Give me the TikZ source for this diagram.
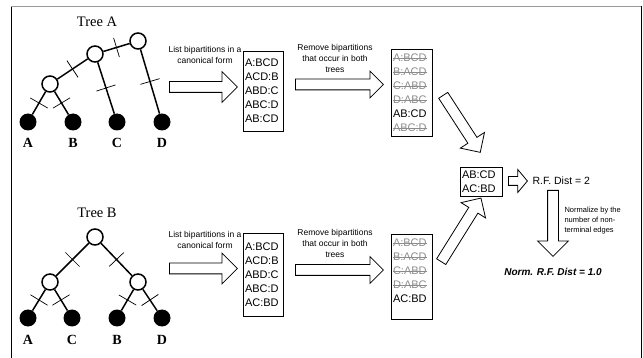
\documentclass[tikz,border=0pt]{standalone}
\usepackage{fontspec}
\setmainfont{Liberation Sans}
\newfontfamily\treefont{Liberation Serif}
\usetikzlibrary{positioning,calc,shapes.arrows}
\newsavebox\gonebox
\newcommand\gone[1]{\leavevmode\sbox\gonebox{\color{black!45}#1}{\color{black!45}\rlap{\rule[0.55ex]{\wd\gonebox}{0.5pt}}}\usebox\gonebox}
\newcommand\cut[2]{\draw[tick] ($(#1)!0.5!(#2)!10pt!90:(#2)$) -- ($(#1)!0.5!(#2)!10pt!-90:(#2)$);}
\newcommand\blist[4]{\parbox[c][#1][#2]{#3}{#4}}

\begin{document}
\begin{tikzpicture}[x=1pt,y=-1pt,
  inode/.style={circle,draw,line width=1.5pt,fill=white,minimum size=16pt,inner sep=0pt},
  leaf/.style={circle,fill=black,minimum size=17pt,inner sep=0pt},
  edge/.style={line width=1.5pt},
  tick/.style={line width=0.7pt},
  leaflab/.style={font=\treefont\bfseries\fontsize{14}{14}\selectfont},
  title/.style={font=\treefont\fontsize{14.5}{15}\selectfont},
  blockarrow/.style={single arrow,draw,fill=white,inner xsep=0pt,inner ysep=5pt,anchor=tail,line width=0.8pt},
  note/.style={font=\fontsize{8.5}{11}\selectfont,align=center},
  listbox/.style={draw,line width=0.8pt,inner sep=2pt,font=\fontsize{11}{14}\selectfont}]
\useasboundingbox (0,0) rectangle (643,358);
\draw[line width=1pt] (11,358) -- (11,6);
\draw[black!40] (11,6) -- (641,6);
\draw[line width=1pt] (641,6) -- (641,358);
% tree A
\node[title] (ta) at (97,22) {Tree A};
\node[inode] (a1) at (138,41) {};
\node[inode] (a2) at (95,54) {};
\node[inode] (a3) at (50,84) {};
\node[leaf] (aA) at (28,122) {};
\node[leaf] (aB) at (73,122) {};
\node[leaf] (aC) at (117,122) {};
\node[leaf] (aD) at (162,122) {};
\draw[edge] (a1) -- (a2); \draw[edge] (a1) -- (aD);
\draw[edge] (a2) -- (a3); \draw[edge] (a2) -- (aC);
\draw[edge] (a3) -- (aA); \draw[edge] (a3) -- (aB);
\cut{a1}{a2} \cut{a1}{aD} \cut{a2}{a3} \cut{a2}{aC} \cut{a3}{aA} \cut{a3}{aB}
\node[leaflab] (laA) at (28,143) {A};
\node[leaflab] (laB) at (73,143) {B};
\node[leaflab] (laC) at (117,143) {C};
\node[leaflab] (laD) at (162,143) {D};
% tree B
\node[title] (tb) at (97,213) {Tree B};
\node[inode] (b1) at (95,237) {};
\node[inode] (b2) at (50,282) {};
\node[inode] (b3) at (138,282) {};
\node[leaf] (bA) at (28,318) {};
\node[leaf] (bC) at (72,318) {};
\node[leaf] (bB) at (117,318) {};
\node[leaf] (bD) at (162,318) {};
\draw[edge] (b1) -- (b2); \draw[edge] (b1) -- (b3);
\draw[edge] (b2) -- (bA); \draw[edge] (b2) -- (bC);
\draw[edge] (b3) -- (bB); \draw[edge] (b3) -- (bD);
\cut{b1}{b2} \cut{b1}{b3} \cut{b2}{bA} \cut{b2}{bC} \cut{b3}{bB} \cut{b3}{bD}
\node[leaflab] (lbA) at (28,340) {A};
\node[leaflab] (lbC) at (72,340) {C};
\node[leaflab] (lbB) at (117,340) {B};
\node[leaflab] (lbD) at (162,340) {D};
% top row
\node[note] (na1) at (205,55) {List bipartitions in a\\canonical form};
\node[blockarrow,minimum height=68pt,single arrow head extend=10pt] (ra1) at (169,87) {};
\node[listbox] (la) at (263,91) {\blist{76pt}{c}{36pt}{A:BCD\\ACD:B\\ABD:C\\ABC:D\\AB:CD}};
\node[note] (na2) at (335,58) {Remove bipartitions\\that occur in both\\trees};
\node[blockarrow,minimum height=88pt,single arrow head extend=8pt] (ra2) at (295,84.5) {};
\node[listbox] (ka) at (411.5,92.5) {\blist{83pt}{c}{37pt}{\gone{A:BCD}\\\gone{B:ACD}\\\gone{C:ABD}\\\gone{D:ABC}\\AB:CD\\\gone{ABC:D}}};
\node[blockarrow,minimum height=68pt,single arrow head extend=9pt,rotate=-57] (ra3) at (443,95) {};
% bottom row
\node[note] (nb1) at (205,240) {List bipartitions in a\\canonical form};
\node[blockarrow,minimum height=68pt,single arrow head extend=10pt] (rb1) at (169,268.5) {};
\node[listbox] (lb) at (263,274.5) {\blist{79pt}{c}{36pt}{A:BCD\\ACD:B\\ABD:C\\ABC:D\\AC:BD}};
\node[note] (nb2) at (335,243) {Remove bipartitions\\that occur in both\\trees};
\node[blockarrow,minimum height=88pt,single arrow head extend=8pt] (rb2) at (295,270) {};
\node[listbox] (kb) at (411.5,276.5) {\blist{81pt}{t}{37pt}{\vspace*{3pt}\gone{A:BCD}\\\gone{B:ACD}\\\gone{C:ABD}\\\gone{D:ABC}\\AC:BD}};
\node[blockarrow,minimum height=75pt,single arrow head extend=9pt,rotate=58] (rb3) at (441,262) {};
% result
\node[listbox] (res) at (481,181.5) {\blist{25pt}{c}{38pt}{AB:CD\\AC:BD}};
\node[blockarrow,minimum height=19pt,inner ysep=4pt,single arrow head extend=7pt,single arrow tip angle=100] (rr) at (508,181) {};
\node[anchor=west,font=\fontsize{10.5}{12}\selectfont] (rf) at (529,181) {R.F. Dist = 2};
\node[blockarrow,minimum height=66pt,single arrow head extend=10pt,rotate=-90] (rd) at (553,190) {};
\node[anchor=west,align=left,font=\fontsize{7.5}{10}\selectfont] (nz) at (561,221) {Normalize by the\\number of non-\\terminal edges};
\node[font=\bfseries\itshape\fontsize{10}{12}\selectfont] (nrf) at (553,272) {Norm. R.F. Dist = 1.0};
\end{tikzpicture}
\end{document}
